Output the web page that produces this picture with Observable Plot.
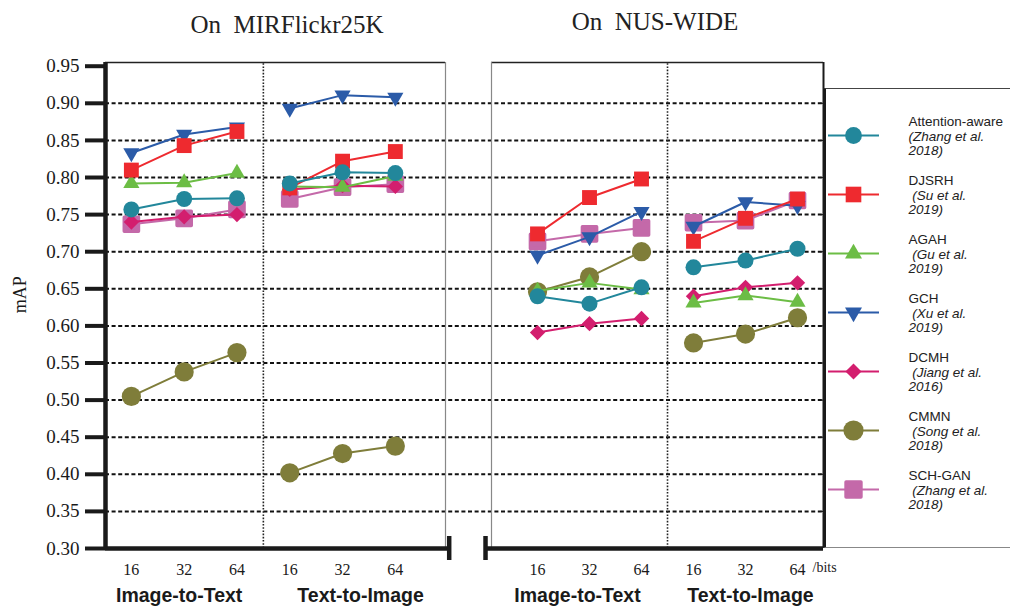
<!DOCTYPE html>
<html><head><meta charset="utf-8">
<script src="https://cdn.jsdelivr.net/npm/d3@7"></script>
<script src="https://cdn.jsdelivr.net/npm/@observablehq/plot@0.6"></script>
<style>
body{margin:0;background:#fff;}
#wrap{position:relative;width:1010px;height:606px;overflow:hidden;background:#fff;}
.title{position:absolute;top:0;font-family:"Liberation Serif","Times New Roman",serif;font-size:25px;white-space:pre;color:#222;transform:translateX(-50%);line-height:1;}
.chart{position:absolute;top:0;}
#legend{position:absolute;left:823px;top:88px;width:187px;height:460px;border-top:1.5px solid #444;border-left:3px solid #1a1a1a;border-bottom:1.5px solid #888;box-sizing:border-box;}
</style></head>
<body>
<div id="wrap">
  <div class="title" id="t1" style="left:287px;top:12px;">On  MIRFlickr25K</div>
  <div class="title" id="t2" style="left:655px;top:9px;">On  NUS-WIDE</div>
  <div class="chart" id="left" style="left:0px;"></div>
  <div class="chart" id="right" style="left:468px;"></div>
  <div id="legend"></div>
</div>
<script>
// ---------- data ----------
const methods = ["Attention-aware", "DJSRH", "AGAH", "GCH", "DCMH", "CMMN", "SCH-GAN"];
const citations = ["(Zhang et al.\n2018)", "\u00a0(Su et al.\n2019)", "\u00a0(Gu et al.\n2019)", "\u00a0(Xu et al.\n2019)", "\u00a0(Jiang et al.\n2016)", "\u00a0(Song et al.\n2018)", "\u00a0(Zhang et al.\n2018)"];
const tasks = ["Image-to-Text", "Text-to-Image"];
const bits = ["16", "32", "64"];
const yTicks = [0.30, 0.35, 0.40, 0.45, 0.50, 0.55, 0.60, 0.65, 0.70, 0.75, 0.80, 0.85, 0.90, 0.95];
const gridValues = [0.35, 0.40, 0.45, 0.50, 0.55, 0.60, 0.65, 0.70, 0.75, 0.80, 0.85, 0.90];

// rows follow `methods`; columns: I2T 16/32/64, T2I 16/32/64
const mirflickrMAP = [
  [0.757, 0.771, 0.772, 0.792, 0.807, 0.806],
  [0.810, 0.843, 0.862, 0.786, 0.822, 0.835],
  [0.792, 0.793, 0.806, 0.788, 0.787, 0.802],
  [0.833, 0.858, 0.868, 0.893, 0.911, 0.908],
  [0.740, 0.747, 0.750, 0.784, 0.789, 0.788],
  [0.505, 0.538, 0.564, 0.402, 0.428, 0.438],
  [0.737, 0.745, 0.757, 0.771, 0.787, 0.791]
];
const nuswideMAP = [
  [0.640, 0.630, 0.652, 0.679, 0.688, 0.704],
  [0.724, 0.773, 0.798, 0.714, 0.745, 0.771],
  [0.647, 0.658, 0.649, 0.631, 0.641, 0.632],
  [0.695, 0.720, 0.754, 0.734, 0.767, 0.762],
  [0.591, 0.603, 0.610, 0.640, 0.652, 0.658],
  [0.646, 0.666, 0.700, 0.577, 0.589, 0.611],
  [0.714, 0.724, 0.732, 0.739, 0.742, 0.769]
];

// ---------- styles ----------
const colors = ["#22879b", "#ee2a2f", "#6cbd45", "#2b5ba8", "#d31e6e", "#7f7d3a", "#c469a9"];
const symbols = ["circle", "square", "triangle", "triangle", "diamond2", "circle", "square"];
const radii = [8, 8.4, 6, 6, 6.9, 9.6, 8];
const rotations = [0, 0, 0, 180, 0, 0, 0];
const SERIF = "Liberation Serif, Times New Roman, serif";
const SANS = "Liberation Sans, Arial, sans-serif";
const INK = "#1a1a1a";
const yDomain = [0.30, 0.955];

function rowsFor(matrix) {
  return methods.flatMap((m, i) => matrix[i].map((v, j) => ({
    method: m, task: tasks[Math.floor(j / 3)], bit: bits[j % 3], k: j, value: v
  })));
}
const tickRows = d3.range(6).map(j => ({k: j, label: bits[j % 3]}));

function seriesMarks(rows) {
  return d3.range(methods.length).reverse().flatMap(i => {
    const data = rows.filter(r => r.method === methods[i]);
    const extra = i === 6 ? {stroke: colors[i], strokeWidth: 3.5, strokeLinejoin: "round"} : {};
    return [
      Plot.line(data, {x: "k", y: "value", z: "task", stroke: colors[i], strokeWidth: 2}),
      Plot.dot(data, {x: "k", y: "value", symbol: symbols[i], r: radii[i], fill: colors[i], rotate: rotations[i], ...extra})
    ];
  });
}

function taskLabel(k, dx) {
  return Plot.text([tasks[k === 1 ? 0 : 1]], {x: [k], y: [0.30], dy: 47, dx, fontSize: 19.5, fontWeight: "bold", fontFamily: SANS, fill: INK, lineAnchor: "middle"});
}

// ---------- left panel: MIRFlickr25K ----------
const xL = [-0.49, 5.95];
const leftChart = Plot.plot({
  width: 468, height: 606, marginLeft: 105, marginRight: 23, marginTop: 62, marginBottom: 58,
  x: {domain: xL, axis: null},
  y: {domain: yDomain},
  style: {background: "transparent", overflow: "visible"},
  marks: [
    Plot.ruleY(gridValues, {x1: xL[0], x2: 6.39, stroke: "#111", strokeWidth: 2, strokeDasharray: "4,2.6"}),
    Plot.ruleX([2.5], {y1: yDomain[0], y2: yDomain[1], stroke: "#222", strokeWidth: 1.6, strokeDasharray: "1.6,1.6"}),
    Plot.ruleY([yDomain[1]], {x1: xL[0], x2: xL[1], stroke: "#222", strokeWidth: 1.5}),
    Plot.ruleX([xL[1]], {y1: yDomain[0], y2: yDomain[1], stroke: "#888", strokeWidth: 1.2}),
    ...seriesMarks(rowsFor(mirflickrMAP)),
    Plot.ruleX([xL[0]], {y1: yDomain[0], y2: yDomain[1], stroke: INK, strokeWidth: 4.5}),
    Plot.ruleY([0.30], {x1: xL[0], x2: 6.02, stroke: INK, strokeWidth: 4.5}),
    Plot.ruleX([6.02], {y1: 0.2838, y2: 0.3162, stroke: INK, strokeWidth: 4.5}),
    Plot.axisY({ticks: yTicks, tickFormat: d3.format(".2f"), tickSize: 20, tickPadding: 6, strokeWidth: 4, color: INK, fontSize: 19, fontFamily: SERIF, label: null}),
    Plot.text(["mAP"], {frameAnchor: "left", y: [0.617], dx: -85, rotate: -90, fontSize: 18, fontFamily: SERIF, fill: INK}),
    Plot.text(tickRows, {x: "k", y: 0.30, text: "label", dy: 21, fontSize: 16, fontFamily: SERIF, fill: INK, lineAnchor: "middle"}),
    taskLabel(1, -5),
    taskLabel(4, 18)
  ]
});
document.getElementById("left").append(leftChart);

// ---------- right panel: NUS-WIDE ----------
const xR = [-0.885, 5.5];
const rightChart = Plot.plot({
  width: 356, height: 606, marginLeft: 23, marginRight: 1, marginTop: 62, marginBottom: 58,
  x: {domain: xR, axis: null},
  y: {domain: yDomain, axis: null},
  style: {background: "transparent", overflow: "visible"},
  marks: [
    Plot.ruleY(gridValues, {x1: -1.327, x2: xR[1], stroke: "#111", strokeWidth: 2, strokeDasharray: "4,2.6"}),
    Plot.ruleX([2.5], {y1: yDomain[0], y2: yDomain[1], stroke: "#222", strokeWidth: 1.6, strokeDasharray: "1.6,1.6"}),
    Plot.ruleY([yDomain[1]], {x1: xR[0], x2: xR[1], stroke: "#222", strokeWidth: 1.5}),
    Plot.ruleX([xR[0]], {y1: yDomain[0], y2: yDomain[1], stroke: "#888", strokeWidth: 1.2}),
    ...seriesMarks(rowsFor(nuswideMAP)),
    Plot.ruleX([xR[1]], {y1: yDomain[0], y2: yDomain[1], stroke: INK, strokeWidth: 2}),
    Plot.ruleY([0.90, 0.85, 0.80, 0.75, 0.70, 0.65, 0.60, 0.55, 0.50, 0.45, 0.40, 0.35], {x1: xR[1] - 0.05, x2: xR[1], stroke: INK, strokeWidth: 1.2}),
    Plot.ruleY([0.30], {x1: -1.0, x2: xR[1], stroke: INK, strokeWidth: 4.5}),
    Plot.ruleX([-1.0], {y1: 0.2838, y2: 0.3162, stroke: INK, strokeWidth: 4.5}),
    Plot.text(tickRows, {x: "k", y: 0.30, text: "label", dy: 21, fontSize: 16, fontFamily: SERIF, fill: INK, lineAnchor: "middle"}),
    Plot.text(["/bits"], {x: [5], y: [0.30], dx: 15, dy: 19, textAnchor: "start", fontSize: 14, fontFamily: SERIF, fill: INK, lineAnchor: "middle"}),
    taskLabel(1, -12),
    taskLabel(4, 5)
  ]
});
document.getElementById("right").append(rightChart);

// ---------- legend ----------
const legendRows = methods.map((m, i) => ({method: m, citation: citations[i], i}));
const legendMarks = legendRows.flatMap(d => {
  const i = d.i;
  const extra = i === 6 ? {stroke: colors[i], strokeWidth: 3.5, strokeLinejoin: "round"} : {};
  return [
    Plot.ruleY([d], {y: "method", x1: 2, x2: 53, stroke: colors[i], strokeWidth: 2}),
    Plot.dot([d], {y: "method", x: 27, symbol: symbols[i], r: radii[i] * 1.05, fill: colors[i], rotate: rotations[i], ...extra})
  ];
});
const legendChart = Plot.plot({
  width: 184, height: 457, marginLeft: 0, marginRight: 0, marginTop: 43.5, marginBottom: 55.5,
  x: {domain: [0, 184], axis: null},
  y: {type: "point", domain: methods, padding: 0, axis: null},
  style: {background: "transparent", overflow: "visible"},
  marks: [
    ...legendMarks,
    Plot.text(legendRows, {y: "method", x: 82, text: "method", dy: -13.5, textAnchor: "start", lineAnchor: "middle", fontSize: 13.5, fontFamily: SANS, fill: "#222"}),
    Plot.text(legendRows, {y: "method", x: 82, text: "citation", dy: 8, textAnchor: "start", lineAnchor: "middle", lineHeight: 1.05, fontSize: 13.5, fontStyle: "italic", fontFamily: SANS, fill: "#222"})
  ]
});
document.getElementById("legend").append(legendChart);
</script>
</body></html>
